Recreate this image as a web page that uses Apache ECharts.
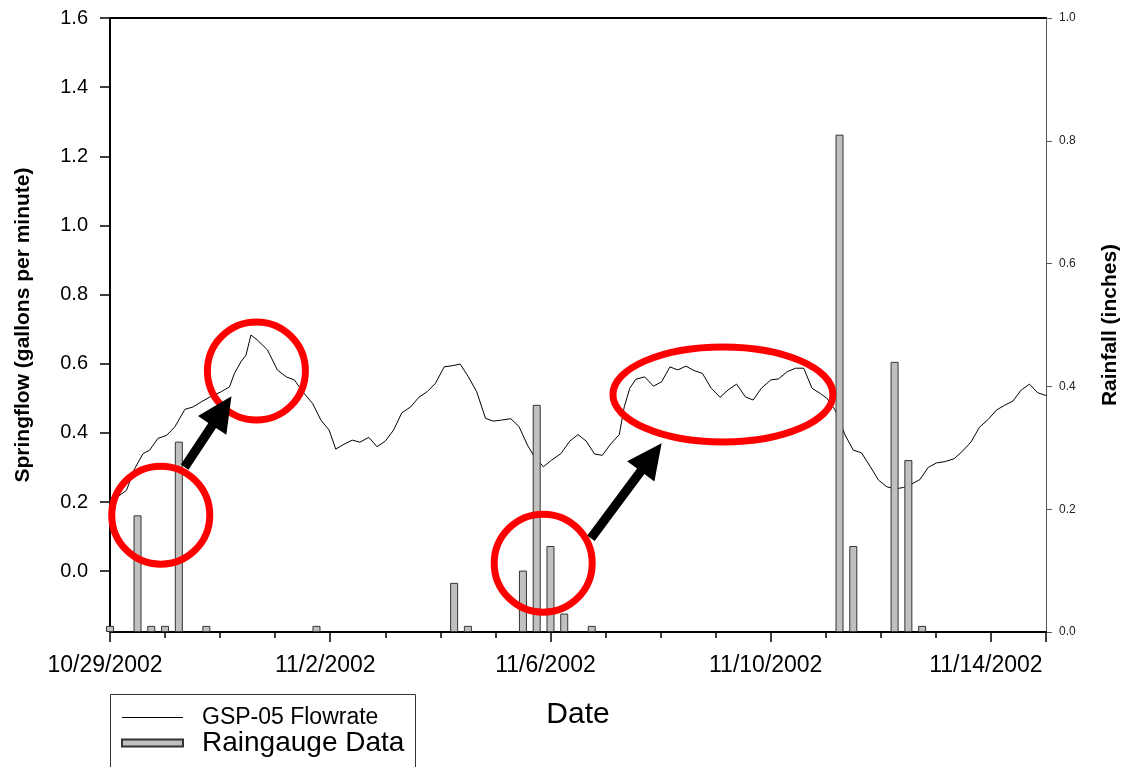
<!DOCTYPE html>
<html><head><meta charset="utf-8">
<script src="https://cdn.jsdelivr.net/npm/echarts@6/dist/echarts.min.js"></script>
<style>html,body{margin:0;padding:0;background:#fff}#c{width:1129px;height:767px}</style>
</head><body><div id="c"></div>
<script>
// ---- data (x = days since 10/29/2002 00:00) ----
const tickDays = [0, 4, 8, 12, 16];
const tickLabels = ['10/29/2002', '11/2/2002', '11/6/2002', '11/10/2002', '11/14/2002'];
const flowTicks = [0, 0.2, 0.4, 0.6, 0.8, 1.0, 1.2, 1.4, 1.6];

const flowDays = [0.00,0.18,0.30,0.45,0.60,0.72,0.87,1.03,1.18,1.36,1.51,1.66,1.84,2.02,2.17,2.26,2.38,2.47,2.56,2.68,2.86,3.04,3.20,3.35,3.50,3.68,3.83,3.98,4.10,4.25,4.40,4.54,4.70,4.85,5.00,5.15,5.30,5.46,5.61,5.76,5.91,6.07,6.21,6.36,6.51,6.66,6.82,6.96,7.11,7.28,7.43,7.58,7.69,7.87,8.02,8.19,8.35,8.50,8.65,8.80,8.94,9.10,9.25,9.34,9.44,9.55,9.71,9.87,10.02,10.17,10.31,10.46,10.61,10.76,10.92,11.08,11.24,11.38,11.54,11.68,11.83,12.00,12.14,12.30,12.45,12.60,12.75,12.90,13.02,13.17,13.35,13.50,13.65,13.81,13.96,14.11,14.26,14.41,14.56,14.71,14.86,15.01,15.17,15.33,15.49,15.64,15.79,15.95,16.10,16.25,16.40,16.55,16.70,16.85,17.00];
const flowValues = [0.19,0.22,0.234,0.297,0.34,0.35,0.384,0.393,0.418,0.468,0.475,0.49,0.506,0.519,0.533,0.572,0.606,0.625,0.683,0.668,0.64,0.582,0.562,0.553,0.519,0.485,0.437,0.408,0.353,0.367,0.379,0.373,0.387,0.36,0.376,0.408,0.458,0.475,0.503,0.519,0.543,0.591,0.594,0.599,0.562,0.519,0.442,0.434,0.437,0.441,0.418,0.365,0.336,0.302,0.321,0.34,0.376,0.395,0.376,0.339,0.335,0.369,0.395,0.475,0.529,0.555,0.562,0.535,0.548,0.591,0.582,0.593,0.58,0.572,0.529,0.503,0.526,0.541,0.504,0.495,0.529,0.553,0.556,0.577,0.587,0.587,0.529,0.514,0.5,0.466,0.394,0.35,0.342,0.302,0.263,0.244,0.238,0.242,0.252,0.265,0.3,0.313,0.317,0.325,0.348,0.374,0.416,0.439,0.466,0.48,0.492,0.524,0.541,0.516,0.508];

const rainDays = [0,0.5,0.75,1,1.25,1.75,3.75,6.25,6.5,7.5,7.75,8,8.25,8.75,13.25,13.5,14.25,14.5,14.75];
const rainValues = [0.01,0.19,0.01,0.01,0.31,0.01,0.01,0.08,0.01,0.10,0.37,0.14,0.03,0.01,0.81,0.14,0.44,0.28,0.01];

// annotations in data coordinates [day, springflow]
const circleCenters = [[0.922,0.162],[2.659,0.579],[7.868,0.023]];
const ellipseCenters = [[11.132,0.511]];
const arrowTails = [[1.356,0.301],[8.735,0.095]];
const arrowTips = [[2.206,0.506],[10.019,0.370]];

const chart = echarts.init(document.getElementById('c'), null, {renderer:'canvas'});
const FONT = 'Arial, "Liberation Sans", sans-serif';

const option = {
  animation: false,
  backgroundColor: '#fff',
  textStyle: {fontFamily: FONT},
  grid: {left: 110, right: 79, top: 18, bottom: 135, containLabel: false},
  legend: {
    left: 121, top: 706, orient: 'vertical', padding: 0, itemGap: 0,
    itemWidth: 61, itemHeight: 7,
    data: [
      {name: 'GSP-05 Flowrate', icon: 'path://M0,0 L60,0 L60,1 L0,1 Z', itemStyle: {color: '#000', borderWidth: 0}},
      {name: 'Raingauge Data', icon: 'rect'}
    ],
    formatter: function (n) { return n === 'GSP-05 Flowrate' ? '{a|' + n + '}' : '{b|' + n + '}'; },
    textStyle: {
      fontFamily: FONT, color: '#000',
      rich: {
        a: {fontSize: 23, lineHeight: 24, padding: [0,0,0,14], fontFamily: FONT},
        b: {fontSize: 28, lineHeight: 30, padding: [0,0,0,14], fontFamily: FONT}
      }
    }
  },
  xAxis: [
    {
      type: 'value', min: 0, max: 17, interval: 1, position: 'bottom',
      axisLine: {show: true, onZero: false, lineStyle: {color: '#000', width: 2}},
      axisTick: {show: true, inside: false, length: 6, lineStyle: {color: '#000', width: 1.5}},
      splitLine: {show: false},
      axisLabel: {
        show: true, fontSize: 23, color: '#000', margin: 22, fontFamily: FONT,
        padding: [0, 10, 0, 0],
        formatter: function (v) { const i = tickDays.indexOf(Math.round(v*1000)/1000); return i >= 0 ? tickLabels[i] : ''; }
      },
      name: 'Date', nameLocation: 'middle', nameGap: 68,
      nameTextStyle: {fontSize: 30, color: '#000', fontFamily: FONT}
    },
    {
      type: 'value', min: 0, max: 17, interval: 4, position: 'bottom', offset: 0,
      axisLine: {show: false, onZero: false}, axisLabel: {show: false}, splitLine: {show: false},
      axisTick: {show: true, inside: false, length: 10, lineStyle: {color: '#000', width: 1.5}}
    },
    {
      type: 'value', min: 0, max: 17, position: 'top',
      axisLine: {show: true, onZero: false, lineStyle: {color: '#000', width: 2}},
      axisTick: {show: false}, axisLabel: {show: false}, splitLine: {show: false}
    }
  ],
  yAxis: [
    {
      type: 'value', min: -0.176, max: 1.6, splitNumber: 8, position: 'left',
      axisLine: {show: true, onZero: false, lineStyle: {color: '#000', width: 2}},
      axisTick: {show: true, inside: false, length: 10, customValues: flowTicks, lineStyle: {color: '#000', width: 1.5}},
      splitLine: {show: false},
      axisLabel: {
        fontSize: 20, color: '#000', margin: 22, fontFamily: FONT, customValues: flowTicks,
        formatter: function (v) { return v < -0.0001 ? '' : Math.abs(v).toFixed(1); }
      },
      name: 'Springflow (gallons per minute)', nameLocation: 'middle', nameRotate: 90, nameGap: 76,
      nameTextStyle: {fontSize: 21, fontWeight: 'bold', color: '#000', fontFamily: FONT}
    },
    {
      type: 'value', min: 0, max: 1, interval: 0.2, position: 'right',
      axisLine: {show: true, onZero: false, lineStyle: {color: '#555', width: 1}},
      axisTick: {show: true, inside: false, length: 6, lineStyle: {color: '#555', width: 1}},
      splitLine: {show: false},
      axisLabel: {fontSize: 12, color: '#222', margin: 13, fontFamily: FONT,
        formatter: function (v) { return v.toFixed(1); }},
      name: 'Rainfall (inches)', nameLocation: 'middle', nameRotate: 90, nameGap: 54,
      nameTextStyle: {fontSize: 21, fontWeight: 'bold', color: '#000', fontFamily: FONT}
    }
  ],
  series: [
    {
      name: 'GSP-05 Flowrate', type: 'line', xAxisIndex: 0, yAxisIndex: 0,
      data: flowDays.map(function (d, i) { return [d, flowValues[i]]; }),
      symbol: 'none', showSymbol: false, smooth: false,
      lineStyle: {color: '#000', width: 1}, itemStyle: {color: '#000'}, z: 2
    },
    {
      name: 'Raingauge Data', type: 'bar', xAxisIndex: 0, yAxisIndex: 1,
      data: rainDays.map(function (d, i) { return [d, rainValues[i]]; }),
      barWidth: 8, clip: true,
      itemStyle: {color: '#c0c0c0', borderColor: '#333', borderWidth: 1}, z: 3
    }
  ]
};
chart.setOption(option);

// ---- annotations placed through the axes' scales ----
function toPx(p) { return chart.convertToPixel({xAxisIndex: 0, yAxisIndex: 0}, p); }
function arrowPoints(t, p) {
  const dx = p[0]-t[0], dy = p[1]-t[1], len = Math.sqrt(dx*dx+dy*dy);
  const ux = dx/len, uy = dy/len, nx = -uy, ny = ux;
  const w = 4.6, L = 35, H = 17;
  const bx = p[0]-ux*L, by = p[1]-uy*L;
  return [[t[0]+nx*w, t[1]+ny*w],[bx+nx*w, by+ny*w],[bx+nx*H, by+ny*H],[p[0],p[1]],
          [bx-nx*H, by-ny*H],[bx-nx*w, by-ny*w],[t[0]-nx*w, t[1]-ny*w]];
}
const graphics = [];
circleCenters.forEach(function (c) {
  const p = toPx(c);
  graphics.push({type: 'circle', shape: {cx: p[0], cy: p[1], r: 49}, style: {fill: 'none', stroke: '#ff0000', lineWidth: 7}, z: 100});
});
ellipseCenters.forEach(function (c) {
  const p = toPx(c);
  graphics.push({type: 'ellipse', shape: {cx: p[0], cy: p[1], rx: 110, ry: 47.5}, style: {fill: 'none', stroke: '#ff0000', lineWidth: 7}, z: 100});
});
arrowTails.forEach(function (t, i) {
  const a = toPx(t), b = toPx(arrowTips[i]);
  graphics.push({type: 'polygon', shape: {points: arrowPoints(a, b)}, style: {fill: '#000', stroke: 'none'}, z: 100});
});
// legend frame (continues past the bottom edge as in the reference)
graphics.push({type: 'rect', shape: {x: 110.5, y: 694.5, width: 305, height: 120}, style: {fill: 'none', stroke: '#333', lineWidth: 1}, z: 0});
chart.setOption({graphic: graphics});
</script>
</body></html>
